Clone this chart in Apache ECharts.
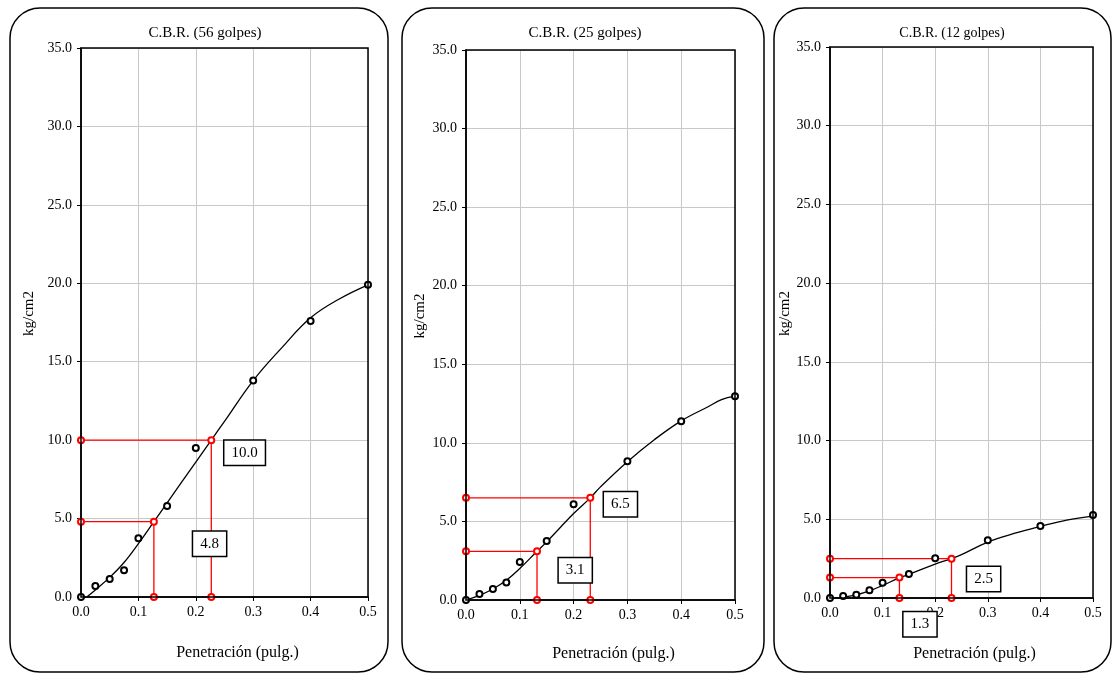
<!DOCTYPE html>
<html>
<head>
<meta charset="utf-8">
<script src="https://cdn.jsdelivr.net/npm/echarts@6/dist/echarts.min.js"></script>
<style>html,body{margin:0;padding:0;background:#fff;}#c{width:1113px;height:675px;}</style>
</head>
<body>
<div id="c"></div>
<script>
// ---- data ----
const titles = ['C.B.R. (56 golpes)', 'C.B.R. (25 golpes)', 'C.B.R. (12 golpes)'];
const xName = 'Penetración (pulg.)';
const yName = 'kg/cm2';
const penetration = [0, 0.025, 0.05, 0.075, 0.1, 0.15, 0.2, 0.3, 0.4, 0.5];
const load56 = [0, 0.7, 1.15, 1.7, 3.75, 5.8, 9.5, 13.8, 17.6, 19.9];
const load25 = [0, 0.38, 0.7, 1.12, 2.42, 3.75, 6.1, 8.83, 11.38, 12.97];
const load12 = [0, 0.13, 0.21, 0.49, 0.97, 1.52, 2.53, 3.67, 4.57, 5.28];

const curve56X = [0.01, 0.025, 0.05, 0.075, 0.1, 0.127, 0.15, 0.2, 0.227, 0.25, 0.3, 0.35, 0.4, 0.45, 0.5];
const curve56Y = [0, 0.45, 1.25, 2.2, 3.4, 4.8, 6.0, 8.6, 10.0, 11.2, 13.8, 15.9, 17.8, 19.0, 19.9];
const curve25X = [0, 0.025, 0.05, 0.075, 0.1, 0.132, 0.15, 0.2, 0.231, 0.25, 0.3, 0.35, 0.4, 0.45, 0.475, 0.5];
const curve25Y = [0, 0.3, 0.7, 1.25, 2.0, 3.1, 3.7, 5.5, 6.5, 7.2, 8.8, 10.2, 11.4, 12.3, 12.75, 12.97];
const curve12X = [0.01, 0.025, 0.05, 0.075, 0.1, 0.132, 0.15, 0.2, 0.231, 0.25, 0.3, 0.35, 0.4, 0.45, 0.5];
const curve12Y = [0, 0.05, 0.2, 0.45, 0.8, 1.28, 1.5, 2.15, 2.5, 2.75, 3.55, 4.1, 4.55, 4.95, 5.2];

// CBR read-off values (kg/cm2) and the penetrations where they are read
const cbr56 = [4.8, 10.0];
const cbrX56 = [0.127, 0.227];
const cbr25 = [3.1, 6.5];
const cbrX25 = [0.132, 0.231];
const cbr12 = [1.3, 2.5];
const cbrX12 = [0.132, 0.231];
// label box anchor positions (x, y) in data units
const labelPos56 = [[0.224, 3.4], [0.285, 9.2]];
const labelPos25 = [[0.203, 1.9], [0.287, 6.1]];
const labelPos12 = [[0.171, -1.67], [0.292, 1.2]];

const xTicks = { min: 0, max: 0.5, interval: 0.1 };
const yTicks = { min: 0, max: 35, interval: 5 };

// ---- layout ----
const FONT = '"Liberation Serif", "DejaVu Serif", serif';
const grids = [
  { left: 81, top: 48, width: 287, height: 549 },
  { left: 466, top: 50, width: 269, height: 550 },
  { left: 830, top: 47, width: 263, height: 551 }
];
const boxes = [
  { x: 10, y: 8, width: 378, height: 664 },
  { x: 402, y: 8, width: 362, height: 664 },
  { x: 774, y: 8, width: 337, height: 664 }
];
const titleX = [200, 580, 947];
const titleSize = [15, 15, 14];
const yNameGap = [44, 38, 31];
const xNameGap = [48, 46, 48];

const panels = [
  { load: load56, cx: curve56X, cy: curve56Y, cbr: cbr56, cbrX: cbrX56, lab: labelPos56 },
  { load: load25, cx: curve25X, cy: curve25Y, cbr: cbr25, cbrX: cbrX25, lab: labelPos25 },
  { load: load12, cx: curve12X, cy: curve12Y, cbr: cbr12, cbrX: cbrX12, lab: labelPos12 }
];

const option = {
  backgroundColor: '#fff',
  animation: false,
  textStyle: { fontFamily: FONT },
  title: titles.map((t, i) => ({
    text: t, left: titleX[i], top: 21, textAlign: 'center',
    textStyle: { fontFamily: FONT, fontSize: titleSize[i], fontWeight: 'normal', color: '#000' }
  })),
  grid: grids.map(g => Object.assign({ containLabel: false }, g)),
  xAxis: grids.map((g, i) => ({
    gridIndex: i, type: 'value', min: xTicks.min, max: xTicks.max, interval: xTicks.interval,
    name: xName, nameLocation: 'middle', nameGap: xNameGap[i],
    nameTextStyle: { fontFamily: FONT, fontSize: 16, color: '#000', padding: [0, 0, 0, 26] },
    axisLine: { show: true, onZero: false, lineStyle: { color: '#000', width: 1.5 } },
    axisTick: { show: true, length: 4, lineStyle: { color: '#000' } },
    axisLabel: { fontFamily: FONT, fontSize: 14, color: '#000', margin: 8, formatter: v => v.toFixed(1) },
    splitLine: { show: true, lineStyle: { color: '#c8c8c8', width: 1 } }
  })),
  yAxis: grids.map((g, i) => ({
    gridIndex: i, type: 'value', min: yTicks.min, max: yTicks.max, interval: yTicks.interval,
    name: yName, nameLocation: 'middle', nameGap: yNameGap[i], nameRotate: 90,
    nameTextStyle: { fontFamily: FONT, fontSize: 15, color: '#000', padding: [0, 0, 0, 18] },
    axisLine: { show: true, onZero: false, lineStyle: { color: '#000', width: 1.5 } },
    axisTick: { show: true, length: 4, lineStyle: { color: '#000' } },
    axisLabel: { fontFamily: FONT, fontSize: 14, color: '#000', margin: 9, formatter: v => v.toFixed(1) },
    splitLine: { show: true, lineStyle: { color: '#c8c8c8', width: 1 } }
  })),
  graphic: [].concat(
    boxes.map(b => ({
      type: 'rect', z: 0, silent: true,
      shape: { x: b.x, y: b.y, width: b.width, height: b.height, r: 30 },
      style: { fill: 'none', stroke: '#000', lineWidth: 1.5 }
    })),
    grids.map(g => ({
      type: 'rect', z: 50, silent: true,
      shape: { x: g.left, y: g.top, width: g.width, height: g.height },
      style: { fill: 'none', stroke: '#000', lineWidth: 1.5 }
    }))
  ),
  series: []
};

panels.forEach((p, i) => {
  // fitted curve
  option.series.push({
    type: 'line', xAxisIndex: i, yAxisIndex: i, smooth: 0.4, showSymbol: false, symbol: 'none',
    data: p.cx.map((x, k) => [x, p.cy[k]]),
    lineStyle: { color: '#000', width: 1.3 }, z: 3
  });
  // red read-off lines
  p.cbr.forEach((v, k) => {
    const x = p.cbrX[k];
    option.series.push({
      type: 'line', xAxisIndex: i, yAxisIndex: i, smooth: false,
      data: [[0, v], [x, v], [x, 0]],
      symbol: 'emptyCircle', symbolSize: 6, showSymbol: true,
      lineStyle: { color: '#ff0000', width: 1.3 },
      itemStyle: { color: '#ff0000', borderColor: '#ff0000', borderWidth: 1.3 },
      z: 4
    });
  });
  // measured points
  option.series.push({
    type: 'scatter', xAxisIndex: i, yAxisIndex: i,
    data: penetration.map((x, k) => [x, p.load[k]]),
    symbol: 'emptyCircle', symbolSize: 6,
    itemStyle: { color: '#000', borderColor: '#000', borderWidth: 1.2, opacity: 1 },
    z: 5
  });
  // value boxes
  option.series.push({
    type: 'scatter', xAxisIndex: i, yAxisIndex: i, clip: false,
    data: p.lab.map((pos, k) => ({ value: pos, text: p.cbr[k].toFixed(1) })),
    symbolSize: 0, silent: true, z: 60,
    itemStyle: { opacity: 1 },
    label: {
      show: true, position: 'inside', opacity: 1,
      formatter: params => params.data.text,
      fontFamily: FONT, fontSize: 15, color: '#000',
      backgroundColor: '#fff', borderColor: '#000', borderWidth: 1.5,
      padding: [5, 7, 4, 7]
    }
  });
});

const chart = echarts.init(document.getElementById('c'), null, { renderer: 'canvas' });
chart.setOption(option);
</script>
</body>
</html>
